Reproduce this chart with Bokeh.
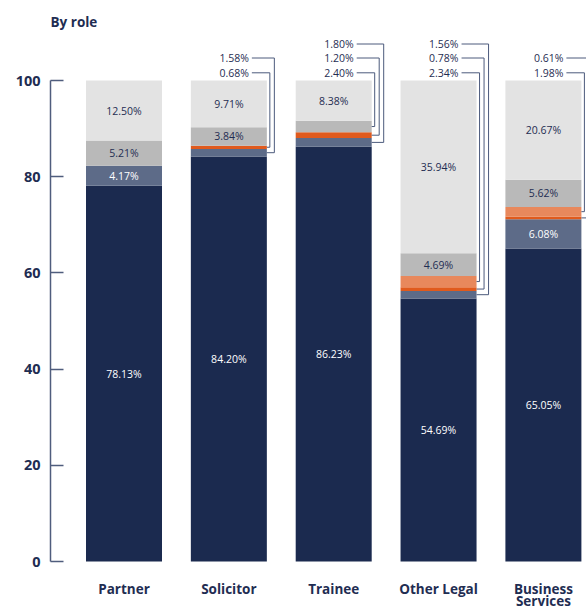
from bokeh.plotting import figure
from bokeh.models import ColumnDataSource, Range1d, FixedTicker
from bokeh.core.properties import value
from bokeh.embed import file_html
from bokeh.resources import INLINE

# ---------------- data ----------------
roles = ["Partner", "Solicitor", "Trainee", "Other Legal", "Business\nServices"]
navy_vals = [78.13, 84.20, 86.23, 54.69, 65.05]
slate_vals = [4.17, 1.58, 1.80, 1.56, 6.08]
dorange_vals = [0.0, 0.68, 1.20, 0.78, 0.61]
lorange_vals = [0.0, 0.0, 0.0, 2.34, 1.98]
gray_vals = [5.21, 3.84, 2.40, 4.69, 5.62]
lgray_vals = [12.50, 9.71, 8.38, 35.94, 20.67]
yticks = [0, 20, 40, 60, 80, 100]
title_text = "By role"

# ---------------- styles / layout ----------------
NAVY = "#1b2a4f"
SLATE = "#5d6b88"
DORANGE = "#e05a1d"
LORANGE = "#e8885c"
GRAY = "#b9b9b9"
LGRAY = "#e3e3e3"
TEXT = "#1f2d52"
AXIS_C = "#4f5d7d"
LINE_C = "#4c5a7c"
FONT = "Open Sans"

W, H = 586, 608
BORDER_L = 50
FRAME_W = W - BORDER_L
PX_X = 104.85            # px per category step
FIRST_CENTER_PX = 73.5   # first bar centre, px from frame left
BAR_W_PX = 76.0
PX_Y = 4.81              # px per percentage point
ZERO_PX = 561.0          # vertical pixel of the 0 line
TOP_PX = 80.0            # px from frame top down to the 100 line
BOTTOM_PX = H - ZERO_PX  # px from the 0 line down to frame bottom

x_start = -FIRST_CENTER_PX / PX_X
x_end = x_start + FRAME_W / PX_X
y_end = 100 + TOP_PX / PX_Y
y_start = -BOTTOM_PX / PX_Y
bar_w = BAR_W_PX / PX_X


def py(px):
    """vertical pixel position -> data value"""
    return (ZERO_PX - px) / PX_Y


series = [navy_vals, slate_vals, dorange_vals, lorange_vals, gray_vals, lgray_vals]
colors = [NAVY, SLATE, DORANGE, LORANGE, GRAY, LGRAY]
names = ["navy", "slate", "dorange", "lorange", "gray", "lgray"]
xs = list(range(len(roles)))

src = ColumnDataSource(dict(x=xs, **{n: s for n, s in zip(names, series)}))

p = figure(width=W, height=H, output_backend="svg", toolbar_location=None,
           title=None, x_range=Range1d(x_start, x_end), y_range=Range1d(y_start, y_end),
           x_axis_location=None, y_axis_location="left",
           min_border_left=BORDER_L, min_border_right=0, min_border_top=0,
           min_border_bottom=0)
p.outline_line_color = None
p.xgrid.visible = False
p.ygrid.visible = False
p.background_fill_color = "white"
p.border_fill_color = "white"

p.vbar_stack(names, x="x", width=bar_w, fill_color=colors, line_color=None, source=src)

# y axis
ax = p.yaxis[0]
ax.ticker = FixedTicker(ticks=yticks)
ax.bounds = (0, 100)
ax.axis_line_color = AXIS_C
ax.axis_line_width = 1.5
ax.major_tick_line_color = AXIS_C
ax.major_tick_line_width = 1.5
ax.major_tick_in = 13
ax.major_tick_out = 0
ax.minor_tick_line_color = None
ax.major_label_text_font = FONT
ax.major_label_text_font_style = "bold"
ax.major_label_text_font_size = "14.5px"
ax.major_label_text_color = TEXT
ax.major_label_standoff = 10

# inner labels and callouts
in_x, in_y, in_t, in_c = [], [], [], []
co_x, co_y, co_t = [], [], []
ln_xs, ln_ys = [], []
LEVEL_PX = [7.7, 22.5, 36.5]
BRACKET_PX = [3.0, 7.5, 12.0]
for i in xs:
    bottom = 0.0
    small = []
    for k, s in enumerate(series):
        v = s[i]
        center = bottom + v / 2
        if v >= 3:
            in_x.append(i)
            in_y.append(center)
            in_t.append(f"{v:.2f}%")
            in_c.append("white" if k < 2 else TEXT)
        elif v > 0:
            small.append((v, center))
        bottom += v
    right = i + bar_w / 2
    for lvl, (v, center) in enumerate(reversed(small)):
        ly = 100 + LEVEL_PX[lvl] / PX_Y
        co_x.append(right)
        co_y.append(ly)
        co_t.append(f"{v:.2f}%")
        bx = right + BRACKET_PX[lvl] / PX_X
        ln_xs.append([right - 15 / PX_X, bx, bx, right])
        ln_ys.append([ly, ly, center, center])

p.text(x=in_x, y=in_y, text=in_t, text_color=in_c, text_align="center",
       text_baseline="middle", text_font=value(FONT), text_font_size="10.5px")
p.multi_line(xs=ln_xs, ys=ln_ys, line_color=LINE_C, line_width=1)
p.text(x=co_x, y=co_y, text=co_t, text_color=TEXT, text_align="right",
       text_baseline="middle", x_offset=-18, text_font=value(FONT),
       text_font_size="10.5px")

# category labels (drawn as text so the two-line label fits)
cx, cy, ct = [], [], []
for i, lab in enumerate(roles):
    for j, part in enumerate(lab.split("\n")):
        cx.append(i)
        cy.append(py(588.0 + 12.0 * j))
        ct.append(part)
p.text(x=cx, y=cy, text=ct, text_color=TEXT, text_align="center",
       text_baseline="alphabetic", text_font=value(FONT), text_font_style="bold",
       text_font_size="13.5px")

# title
p.text(x=[x_start], y=[py(21)], text=[title_text], text_color=TEXT,
       text_align="left", text_baseline="alphabetic", text_font=value(FONT),
       text_font_style="bold", text_font_size="13.5px")

open("out.html", "w").write(file_html(p, INLINE))
